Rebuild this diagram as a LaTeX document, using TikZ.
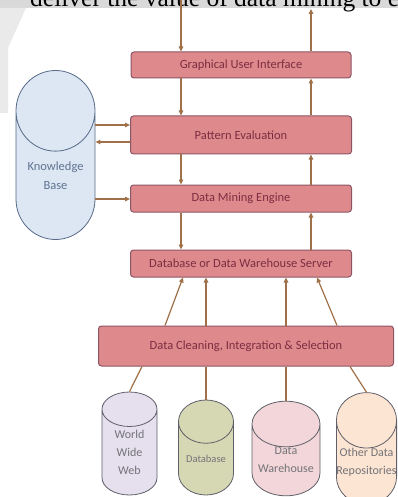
\documentclass[tikz,border=0pt]{standalone}
\usepackage{fontspec}
\setmainfont{Carlito}
\newfontfamily\pagefont{Liberation Serif}
\usetikzlibrary{shapes.geometric,arrows.meta,positioning,calc}

\definecolor{pagegray}{RGB}{217,217,217}
\definecolor{stagefill}{RGB}{222,138,141}
\definecolor{stageline}{RGB}{140,85,100}
\definecolor{stagetext}{RGB}{125,45,65}
\definecolor{flowcol}{RGB}{160,112,72}
\definecolor{storeline}{RGB}{95,95,105}
\definecolor{storetext}{RGB}{115,115,120}
\definecolor{kbfill}{RGB}{220,231,243}
\definecolor{kbline}{RGB}{85,105,135}
\definecolor{kbtext}{RGB}{95,115,145}
\definecolor{wwwfill}{RGB}{229,223,238}
\definecolor{dbfill}{RGB}{214,216,180}
\definecolor{dwfill}{RGB}{243,214,217}
\definecolor{otherfill}{RGB}{253,229,211}

\begin{document}
\begin{tikzpicture}[x=1pt,y=-1pt,font=\fontsize{12.5}{15}\selectfont]
\tikzstyle{stage}=[rectangle,rounded corners=3pt,draw=stageline,fill=stagefill,line width=1pt,text=stagetext,inner sep=0pt,minimum width=221pt,minimum height=27pt]
\tikzstyle{store}=[cylinder,shape border rotate=90,anchor=shape center,draw=storeline,line width=0.8pt,align=center,text=storetext,inner sep=0pt,cylinder uses custom fill,font=\fontsize{12}{18}\selectfont]
\tikzstyle{flow}=[-{Triangle[length=5pt,width=4.5pt]},line width=1.2pt,draw=flowcol,fill=flowcol]
\tikzstyle{feed}=[-,line width=1.2pt,draw=flowcol]

\clip (0,0) rectangle (398,497);

% scanned page around the figure
\fill[pagegray] (0,0) rectangle (398,8);
\fill[pagegray!55] (0,8) -- (26,8) -- (8,48) -- (8,113) -- (0,113) -- cycle;
\node[anchor=base west,inner sep=0pt,font=\pagefont\fontsize{25.5}{25.5}\selectfont] (pagetext) at (30,7) {deliver the value of data mining to end};

% architecture layers
\node[stage,minimum width=220pt,minimum height=26pt] (gui) at (241,65) {Graphical User Interface};
\node[stage,minimum height=38pt] (pe) [below=37pt of gui] {Pattern Evaluation};
\node[stage] (dme) [below=30pt of pe] {Data Mining Engine};
\node[stage] (dws) [below=37pt of dme] {Database or Data Warehouse Server};
\node[stage,minimum width=295pt,minimum height=40pt] (dcis) [below=48pt of dws, xshift=5pt] {Data Cleaning, Integration \& Selection};

% knowledge base
\node[store,draw=kbline,text=kbtext,cylinder body fill=kbfill,cylinder end fill=kbfill,aspect=1.44,minimum width=79pt,minimum height=169pt,font=\fontsize{12.5}{19}\selectfont] (kb) at (55.5,155) {Knowledge\\Base};

% data sources
\node[store,cylinder body fill=wwwfill,cylinder end fill=wwwfill,aspect=1.16,minimum width=55pt,minimum height=103pt] (www) at (129.5,443.5) {World\\Wide\\Web};
\node[store,cylinder body fill=dbfill,cylinder end fill=dbfill,aspect=1.09,minimum width=55pt,minimum height=95pt,font=\fontsize{10.5}{12}\selectfont] (db) at (206,447.5) {Database};
\node[store,cylinder body fill=dwfill,cylinder end fill=dwfill,aspect=0.82,minimum width=68pt,minimum height=93pt] (dw) at (286,448.5) {Data\\Warehouse};
\node[store,cylinder body fill=otherfill,cylinder end fill=otherfill,aspect=0.92,minimum width=59pt,minimum height=93pt] (other) at (366.5,448.5) {Other Data\\Repositories};

% columns and rows for the arrows
\coordinate (colL) at (181,0);
\coordinate (colR) at (311,0);
\coordinate (inTop) at (181,0);
\coordinate (outTop) at (311,9);
\coordinate (rowA) at (0,125);
\coordinate (rowB) at (0,142);
\coordinate (rowC) at (0,199);

\draw[flow] (inTop) -- (inTop |- gui.north);
\draw[flow] (gui.north -| outTop) -- (outTop);
\draw[flow] (gui.south -| colL) -- (pe.north -| colL);
\draw[flow] (pe.north -| colR) -- (gui.south -| colR);
\draw[flow] (pe.south -| colL) -- (dme.north -| colL);
\draw[flow] (dme.north -| colR) -- (pe.south -| colR);
\draw[flow] (dme.south -| colL) -- (dws.north -| colL);
\draw[flow] (dws.north -| colR) -- (dme.south -| colR);

\draw[flow] (kb.east |- rowA) -- (pe.west |- rowA);
\draw[flow] (pe.west |- rowB) -- (kb.east |- rowB);
\draw[flow] (kb.east |- rowC) -- (dme.west |- rowC);

\foreach \a/\b in {165/183,206/206,286/286,337/317}{
  \coordinate (s) at (\a,0);
  \coordinate (t) at (\b,0);
  \draw[flow] (s |- dcis.north) -- (t |- dws.south);
}

\coordinate (feedW) at (142,0);
\coordinate (feedO) at (350,0);
\draw[feed] (www.north) -- (feedW |- dcis.south);
\draw[feed] (db.north) -- (db.north |- dcis.south);
\draw[feed] (dw.north) -- (dw.north |- dcis.south);
\draw[feed] (other.north) -- (feedO |- dcis.south);
\end{tikzpicture}
\end{document}
